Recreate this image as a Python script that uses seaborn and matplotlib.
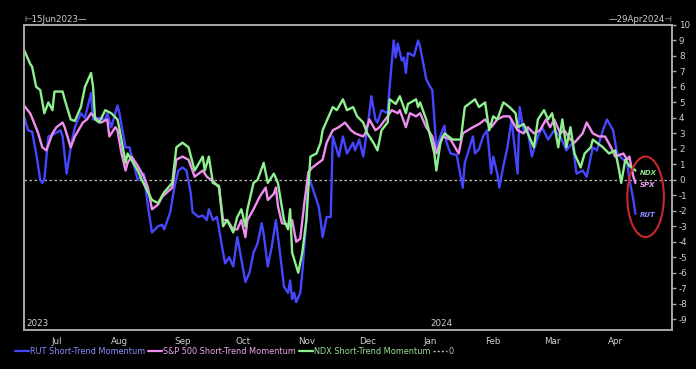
import matplotlib
matplotlib.use("Agg")
import matplotlib.pyplot as plt
import matplotlib.dates as mdates
from matplotlib.patches import Ellipse
from matplotlib.lines import Line2D
import pandas as pd
import seaborn as sns

# ---------------- data ----------------
rut_dates = ["2023-06-15", "2023-06-17", "2023-06-19", "2023-06-21", "2023-06-23", "2023-06-24", "2023-06-25",
             "2023-06-27", "2023-06-29", "2023-07-03", "2023-07-04", "2023-07-06", "2023-07-08", "2023-07-10",
             "2023-07-13", "2023-07-15", "2023-07-18", "2023-07-19", "2023-07-22", "2023-07-25", "2023-07-26",
             "2023-07-28", "2023-07-31", "2023-08-01", "2023-08-04", "2023-08-06", "2023-08-07", "2023-08-10",
             "2023-08-13", "2023-08-15", "2023-08-17", "2023-08-20", "2023-08-22", "2023-08-23", "2023-08-26",
             "2023-08-28", "2023-08-30", "2023-09-01", "2023-09-03", "2023-09-05", "2023-09-06", "2023-09-09",
             "2023-09-11", "2023-09-13", "2023-09-14", "2023-09-16", "2023-09-18", "2023-09-21", "2023-09-22",
             "2023-09-24", "2023-09-26", "2023-09-28", "2023-09-29", "2023-10-02", "2023-10-04", "2023-10-06",
             "2023-10-08", "2023-10-10", "2023-10-11", "2023-10-13", "2023-10-15", "2023-10-17", "2023-10-19",
             "2023-10-21", "2023-10-23", "2023-10-24", "2023-10-25", "2023-10-26", "2023-10-27", "2023-10-29",
             "2023-10-30", "2023-11-01", "2023-11-02", "2023-11-04", "2023-11-07", "2023-11-08", "2023-11-09",
             "2023-11-11", "2023-11-13", "2023-11-14", "2023-11-17", "2023-11-19", "2023-11-21", "2023-11-24",
             "2023-11-25", "2023-11-27", "2023-11-29", "2023-11-30", "2023-12-02", "2023-12-03", "2023-12-05",
             "2023-12-06", "2023-12-08", "2023-12-11", "2023-12-12", "2023-12-14", "2023-12-15", "2023-12-16",
             "2023-12-18", "2023-12-19", "2023-12-20", "2023-12-21", "2023-12-24", "2023-12-26", "2023-12-27",
             "2023-12-30", "2024-01-01", "2024-01-02", "2024-01-04", "2024-01-07", "2024-01-08", "2024-01-09",
             "2024-01-11", "2024-01-14", "2024-01-17", "2024-01-18", "2024-01-22", "2024-01-23", "2024-01-25",
             "2024-01-27", "2024-01-29", "2024-01-31", "2024-02-01", "2024-02-03", "2024-02-04", "2024-02-06",
             "2024-02-08", "2024-02-10", "2024-02-13", "2024-02-14", "2024-02-16", "2024-02-18", "2024-02-20",
             "2024-02-23", "2024-02-25", "2024-02-28", "2024-03-02", "2024-03-05", "2024-03-08", "2024-03-11",
             "2024-03-13", "2024-03-16", "2024-03-18", "2024-03-21", "2024-03-23", "2024-03-26", "2024-03-28",
             "2024-03-31", "2024-04-02", "2024-04-05", "2024-04-07", "2024-04-08", "2024-04-09", "2024-04-10",
             "2024-04-11"]
rut_vals = [4.1, 3.2, 3.1, 1.7, 0.0, -0.2, 0.0,
            2.8, 2.9, 3.2, 2.8, 0.4, 2.1, 3.4,
            4.3, 4.0, 5.6, 3.9, 4.0, 3.9, 4.3,
            3.4, 4.8, 4.3, 2.1, 2.1, 1.5, 0.0,
            0.4, -1.7, -3.4, -3.0, -2.9, -3.2, -2.1,
            -0.5, 0.6, 0.8, 0.6, -0.8, -2.1, -2.4,
            -2.3, -2.6, -1.9, -2.6, -2.4, -4.7, -5.4,
            -5.0, -5.6, -3.7, -4.4, -6.6, -6.0, -4.7,
            -4.1, -2.8, -3.5, -5.6, -4.3, -2.6, -4.7,
            -6.9, -7.3, -6.5, -7.7, -7.3, -7.9, -7.3,
            -6.0, -2.6, 0.2, -0.5, -1.7, -2.6, -3.7,
            -2.4, -2.4, 2.8, 1.5, 2.8, 1.7, 2.4,
            1.9, 2.6, 1.5, 2.4, 4.3, 5.4, 3.9,
            3.7, 4.5, 4.3, 6.0, 9.0, 7.9, 8.8,
            7.7, 7.9, 6.9, 8.2, 8.0, 9.0, 8.6,
            6.5, 6.0, 5.8, 2.1, 3.2, 3.5, 2.4,
            1.7, 1.6, -0.5, 1.1, 2.8, 1.7, 2.0,
            2.8, 3.2, 0.4, 1.5, 0.4, -0.5, 0.9,
            2.1, 3.9, 0.4, 4.7, 3.2, 3.2, 1.5,
            2.8, 3.4, 2.6, 3.2, 2.8, 1.9, 2.4,
            0.4, 0.6, 0.2, 2.1, 1.9, 3.2, 3.9,
            3.2, 1.7, 1.3, 1.1, 0.0, -0.6, -1.3,
            -2.2]

spx_dates = ["2023-06-15", "2023-06-18", "2023-06-19", "2023-06-22", "2023-06-24", "2023-06-26", "2023-06-29",
             "2023-07-01", "2023-07-04", "2023-07-05", "2023-07-08", "2023-07-10", "2023-07-14", "2023-07-16",
             "2023-07-18", "2023-07-21", "2023-07-23", "2023-07-26", "2023-07-27", "2023-07-30", "2023-07-31",
             "2023-08-02", "2023-08-04", "2023-08-05", "2023-08-07", "2023-08-10", "2023-08-13", "2023-08-15",
             "2023-08-17", "2023-08-20", "2023-08-22", "2023-08-27", "2023-08-29", "2023-09-01", "2023-09-04",
             "2023-09-07", "2023-09-11", "2023-09-13", "2023-09-17", "2023-09-19", "2023-09-21", "2023-09-23",
             "2023-09-26", "2023-09-28", "2023-09-30", "2023-10-02", "2023-10-03", "2023-10-06", "2023-10-09",
             "2023-10-12", "2023-10-13", "2023-10-16", "2023-10-17", "2023-10-18", "2023-10-20", "2023-10-23",
             "2023-10-25", "2023-10-27", "2023-10-29", "2023-10-31", "2023-11-02", "2023-11-04", "2023-11-07",
             "2023-11-09", "2023-11-11", "2023-11-14", "2023-11-17", "2023-11-20", "2023-11-23", "2023-11-25",
             "2023-11-29", "2023-11-30", "2023-12-02", "2023-12-05", "2023-12-07", "2023-12-11", "2023-12-13",
             "2023-12-16", "2023-12-17", "2023-12-20", "2023-12-22", "2023-12-25", "2023-12-27", "2023-12-30",
             "2024-01-02", "2024-01-04", "2024-01-07", "2024-01-11", "2024-01-15", "2024-01-17", "2024-01-22",
             "2024-01-25", "2024-01-28", "2024-01-31", "2024-02-03", "2024-02-06", "2024-02-09", "2024-02-13",
             "2024-02-16", "2024-02-18", "2024-02-21", "2024-02-24", "2024-02-27", "2024-02-29", "2024-03-02",
             "2024-03-05", "2024-03-07", "2024-03-10", "2024-03-12", "2024-03-16", "2024-03-18", "2024-03-21",
             "2024-03-24", "2024-03-27", "2024-03-30", "2024-04-01", "2024-04-05", "2024-04-07", "2024-04-08",
             "2024-04-10", "2024-04-11"]
spx_vals = [4.8, 4.3, 4.0, 3.0, 2.1, 1.9, 3.0,
            3.4, 3.7, 3.4, 2.1, 2.8, 3.7, 3.9,
            4.3, 3.9, 3.7, 3.9, 2.8, 3.4, 3.2,
            1.7, 0.6, 1.1, 1.5, 0.9, 0.2, -0.5,
            -1.9, -1.6, -1.1, -0.5, 1.3, 1.5, 1.3,
            0.2, 0.6, 0.2, -0.2, -0.5, -2.6, -2.6,
            -3.2, -3.2, -2.6, -3.7, -2.6, -1.9, -1.1,
            -0.5, -1.3, -0.9, -0.5, -1.7, -2.8, -2.9,
            -2.6, -4.0, -3.8, -1.5, 0.5, 0.8, 1.1,
            1.3, 2.4, 3.2, 3.4, 3.7, 3.2, 3.0,
            2.8, 3.0, 3.9, 3.2, 3.4, 4.1, 4.5,
            4.3, 4.5, 3.4, 4.3, 4.1, 4.3, 3.4,
            2.8, 1.7, 2.8, 2.6, 1.7, 3.0, 3.4,
            3.6, 3.9, 3.4, 3.9, 4.1, 4.1, 3.2,
            3.0, 3.4, 3.0, 3.2, 3.9, 3.4, 3.9,
            3.0, 3.2, 2.6, 2.4, 3.0, 3.7, 3.0,
            2.8, 2.8, 2.1, 1.5, 1.7, 1.3, 1.5,
            0.2, -0.2]

ndx_dates = ["2023-06-15", "2023-06-18", "2023-06-19", "2023-06-21", "2023-06-23", "2023-06-25", "2023-06-27",
             "2023-06-29", "2023-06-30", "2023-07-04", "2023-07-05", "2023-07-08", "2023-07-10", "2023-07-13",
             "2023-07-15", "2023-07-18", "2023-07-19", "2023-07-20", "2023-07-22", "2023-07-25", "2023-07-28",
             "2023-07-31", "2023-08-01", "2023-08-04", "2023-08-05", "2023-08-10", "2023-08-12", "2023-08-15",
             "2023-08-17", "2023-08-20", "2023-08-23", "2023-08-27", "2023-08-29", "2023-09-01", "2023-09-04",
             "2023-09-07", "2023-09-11", "2023-09-12", "2023-09-14", "2023-09-16", "2023-09-19", "2023-09-21",
             "2023-09-23", "2023-09-26", "2023-09-28", "2023-09-30", "2023-10-02", "2023-10-03", "2023-10-06",
             "2023-10-08", "2023-10-11", "2023-10-13", "2023-10-16", "2023-10-18", "2023-10-21", "2023-10-23",
             "2023-10-24", "2023-10-25", "2023-10-28", "2023-10-30", "2023-11-01", "2023-11-03", "2023-11-06",
             "2023-11-08", "2023-11-09", "2023-11-14", "2023-11-16", "2023-11-19", "2023-11-21", "2023-11-24",
             "2023-11-26", "2023-11-29", "2023-12-01", "2023-12-04", "2023-12-06", "2023-12-08", "2023-12-11",
             "2023-12-12", "2023-12-15", "2023-12-17", "2023-12-20", "2023-12-21", "2023-12-25", "2023-12-26",
             "2023-12-27", "2023-12-30", "2024-01-01", "2024-01-03", "2024-01-04", "2024-01-06", "2024-01-08",
             "2024-01-12", "2024-01-16", "2024-01-18", "2024-01-23", "2024-01-25", "2024-01-28", "2024-01-30",
             "2024-02-01", "2024-02-03", "2024-02-06", "2024-02-09", "2024-02-12", "2024-02-13", "2024-02-16",
             "2024-02-18", "2024-02-21", "2024-02-23", "2024-02-26", "2024-02-28", "2024-03-01", "2024-03-04",
             "2024-03-06", "2024-03-08", "2024-03-10", "2024-03-12", "2024-03-15", "2024-03-17", "2024-03-20",
             "2024-03-21", "2024-03-26", "2024-03-29", "2024-04-01", "2024-04-03", "2024-04-04", "2024-04-06",
             "2024-04-08", "2024-04-11"]
ndx_vals = [8.4, 7.5, 7.3, 6.0, 5.8, 4.3, 5.0,
            4.5, 5.7, 5.7, 5.2, 3.9, 3.8, 4.7,
            6.0, 6.9, 6.0, 3.9, 3.7, 4.5, 4.3,
            3.9, 3.3, 1.1, 1.7, 0.6, 0.0, -0.8,
            -1.3, -1.5, -0.8, -0.2, 2.1, 2.4, 2.1,
            0.6, 1.5, 0.6, 1.5, -0.2, -0.4, -3.0,
            -2.6, -3.4, -2.4, -1.9, -3.0, -1.9, -0.2,
            0.0, 1.1, -0.2, 0.4, -0.2, -2.6, -3.2,
            -1.9, -4.7, -6.0, -4.7, -2.6, 1.5, 1.7,
            2.4, 3.2, 4.7, 4.5, 5.2, 4.5, 4.7,
            4.1, 3.7, 3.0, 2.4, 1.9, 3.2, 3.7,
            5.2, 4.9, 5.4, 4.3, 4.9, 5.2, 4.7,
            5.0, 3.9, 2.8, 1.7, 0.6, 2.4, 3.0,
            2.6, 2.6, 4.7, 5.2, 4.7, 5.0, 3.2,
            4.1, 3.9, 5.0, 4.7, 4.3, 3.4, 3.6,
            3.0, 2.1, 3.9, 4.5, 3.9, 4.3, 2.1,
            3.9, 2.1, 3.4, 1.7, 0.8, 1.7, 2.1,
            2.6, 2.1, 1.7, 1.9, 0.6, -0.2, 1.3,
            0.9, 0.6]

series_names = ["RUT Short-Trend Momentum", "S&P 500 Short-Trend Momentum", "NDX Short-Trend Momentum"]
zero_label = "0"
line_colors = ["#4646ff", "#f08ef0", "#8ef08e"]
text_colors = ["#8c8cff", "#f0a8f0", "#9ae09a"]
month_ticks = ["2023-07-01", "2023-08-01", "2023-09-01", "2023-10-01", "2023-11-01", "2023-12-01",
               "2024-01-01", "2024-02-01", "2024-03-01", "2024-04-01"]
y_ticks = list(range(-9, 11))
start_label = "15Jun2023"
end_label = "29Apr2024"
x_start, x_end = "2023-06-15", "2024-04-29"
tag_labels = ["NDX", "SPX", "RUT"]
tag_values = [0.45, -0.35, -2.3]
tag_colors = ["#8ee08e", "#f0a0f0", "#8c8cff"]

# ---------------- build frame ----------------
frames = []
for name, d, v in zip(series_names, [rut_dates, spx_dates, ndx_dates], [rut_vals, spx_vals, ndx_vals]):
    frames.append(pd.DataFrame({"date": pd.to_datetime(d), "value": v, "series": name}))
df = pd.concat(frames, ignore_index=True)

sns.set_theme(style="dark")
plt.rcParams.update({
    "font.family": ["DejaVu Sans"],
    "axes.unicode_minus": False,
    "figure.facecolor": "black",
    "axes.facecolor": "black",
    "savefig.facecolor": "black",
})

fig = plt.figure(figsize=(6.96, 3.69), dpi=100)
ax = fig.add_axes([24 / 696, 1 - 330 / 369, 648 / 696, 305 / 369])
ax.set_facecolor("black")

sns.lineplot(data=df, x="date", y="value", hue="series", hue_order=series_names,
             palette=dict(zip(series_names, line_colors)), estimator=None, sort=False,
             linewidth=1.7, ax=ax, legend=False)

ax.axhline(0, color="#bbbbbb", lw=0.9, ls=(0, (2, 2)), zorder=1)

ax.set_xlim(pd.Timestamp(x_start), pd.Timestamp(x_end))
ax.set_ylim(-9.7, 10)
ax.set_xlabel("")
ax.set_ylabel("")
ax.grid(False)

frame_col = "#a8a8a8"
for s in ax.spines.values():
    s.set_visible(True)
    s.set_color(frame_col)
    s.set_linewidth(1.4)

ax.yaxis.tick_right()
ax.set_yticks(y_ticks)
ax.set_yticklabels([str(t) for t in y_ticks])
ax.tick_params(axis="y", which="both", direction="out", length=3, width=1, color=frame_col,
               labelsize=6.3, labelcolor="#d0d0d0", pad=2, right=True, left=False)

ticks = pd.to_datetime(month_ticks)
ax.set_xticks(ticks)
ax.set_xticklabels([t.strftime("%b") for t in ticks])
ax.tick_params(axis="x", direction="out", length=3, width=1, color=frame_col,
               labelsize=6.3, labelcolor="#d0d0d0", pad=2)

# year labels inside the plot
ax.text(0.003, 0.008, "2023", transform=ax.transAxes, ha="left", va="bottom",
        fontsize=6.3, color="#d0d0d0")
ax.text(mdates.date2num(pd.Timestamp("2024-01-01")), -9.6, "2024", ha="left", va="bottom",
        fontsize=6.3, color="#d0d0d0")

# top range labels
fig.text(24 / 696, 1 - 19 / 369, "\u22a2" + start_label + "\u2014", ha="left", va="center",
         fontsize=6.2, color="#d0d0d0")
fig.text(672 / 696, 1 - 19 / 369, "\u2014" + end_label + "\u22a3", ha="right", va="center",
         fontsize=6.2, color="#d0d0d0")

# red ellipse annotation with tags
center = mdates.date2num(pd.Timestamp("2024-04-16"))
ax.add_patch(Ellipse((center, -1.1), width=18, height=5.2, fill=False,
                     edgecolor="#c8282e", lw=1.5, zorder=5))
tag_x = mdates.date2num(pd.Timestamp("2024-04-13"))
for lab, val, col in zip(tag_labels, tag_values, tag_colors):
    ax.text(tag_x, val, lab, color=col, fontsize=5, fontstyle="italic", fontweight="bold",
            ha="left", va="center", zorder=6)

# legend
handles = [Line2D([], [], color=c, lw=1.6) for c in line_colors]
handles.append(Line2D([], [], color="#bbbbbb", lw=1, ls=(0, (1.5, 1.5))))
leg = fig.legend(handles, series_names + [zero_label], loc="center left",
                 bbox_to_anchor=(15 / 696, 1 - 351 / 369), ncol=4, frameon=False,
                 fontsize=5.9, handlelength=1.7, handletextpad=0.15, columnspacing=0.35,
                 borderaxespad=0, borderpad=0)
for txt, col in zip(leg.get_texts(), text_colors + ["#bbbbbb"]):
    txt.set_color(col)

fig.savefig("out.png", dpi=100, facecolor="black")
